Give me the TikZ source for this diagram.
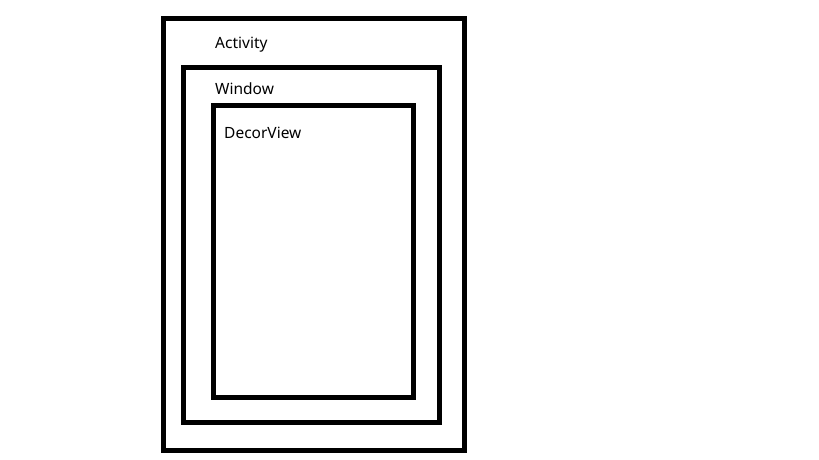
\documentclass[tikz,border=0pt]{standalone}
\usepackage{fontspec}
\setmainfont{Noto Sans}
\begin{document}
\begin{tikzpicture}[x=1pt,y=-1pt,
  box/.style={draw=black,line width=5pt},
  lbl/.style={anchor=base west,inner sep=0pt,font=\fontsize{15.5}{17}\selectfont}]
\useasboundingbox (0,0) rectangle (819,460);
\draw[box] (163.5,18.5) rectangle (464.5,450.5);
\draw[box] (183.5,67.5) rectangle (439.5,422.5);
\draw[box] (213.5,105.5) rectangle (413.5,397.5);
\node[lbl] (activity) at (215,48.5) {Activity};
\node[lbl] (window) at (215,94) {Window};
\node[lbl] (decor) at (224,138) {DecorView};
\end{tikzpicture}
\end{document}
